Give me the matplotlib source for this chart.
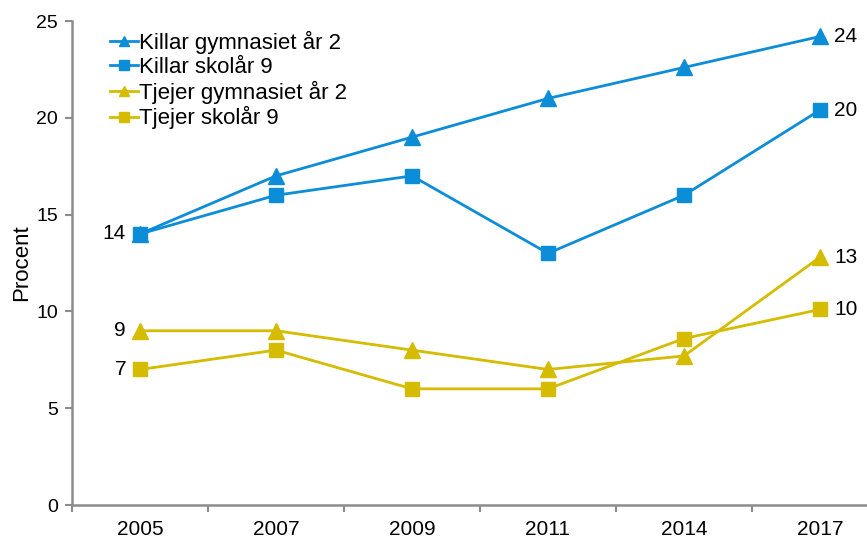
import matplotlib
matplotlib.use("Agg")
import matplotlib.pyplot as plt
import numpy as np

plt.rcParams['font.family'] = ['Liberation Sans', 'DejaVu Sans']

years = ["2005", "2007", "2009", "2011", "2014", "2017"]
killar_gym = [14, 17, 19, 21, 22.6, 24.2]
killar_sk9 = [14, 16, 17, 13, 16, 20.4]
tjejer_gym = [9, 9, 8, 7, 7.7, 12.8]
tjejer_sk9 = [7, 8, 6, 6, 8.6, 10.1]

blue = "#0C8DD7"
yellow = "#D5BC00"

W, H = 867, 542
fig = plt.figure(figsize=(W/100, H/100), dpi=100)
ax = fig.add_axes([72/W, 1-505/H, (888-72)/W, (505-21)/H])

x = np.arange(len(years))
ax.plot(x, killar_gym, color=blue, marker='^', ms=12, lw=2, label="Killar gymnasiet år 2", clip_on=False)
ax.plot(x, killar_sk9, color=blue, marker='s', ms=10, lw=2, label="Killar skolår 9", clip_on=False)
ax.plot(x, tjejer_gym, color=yellow, marker='^', ms=12, lw=2, label="Tjejer gymnasiet år 2", clip_on=False)
ax.plot(x, tjejer_sk9, color=yellow, marker='s', ms=10, lw=2, label="Tjejer skolår 9", clip_on=False)

ax.set_xlim(-0.5, len(years) - 0.5)
ax.set_ylim(0, 25)
ax.set_yticks([0, 5, 10, 15, 20, 25])
ax.set_xticks(x)
ax.set_xticklabels(years)
ax.set_xticks(np.arange(-0.5, len(years), 1), minor=True)
ax.tick_params(axis='x', which='major', length=0, pad=11, labelsize=15)
ax.tick_params(axis='x', which='minor', length=5, width=1.5, color='#8C8C8C', direction='out')
ax.tick_params(axis='y', length=5, width=1.5, color='#8C8C8C', labelsize=14, pad=5)
for s in ['top', 'right']:
    ax.spines[s].set_visible(False)
for s in ['left', 'bottom']:
    ax.spines[s].set_color('#8C8C8C')
    ax.spines[s].set_linewidth(1.8)
ax.set_ylabel("Procent", fontsize=16, labelpad=3)

# first-point labels
for series in [killar_gym, tjejer_gym, tjejer_sk9]:
    ax.annotate(f"{series[0]:.0f}", (x[0], series[0]), xytext=(-10, 0), textcoords='offset points',
                ha='right', va='center', fontsize=15)
# last-point labels
for series in [killar_gym, killar_sk9, tjejer_gym, tjejer_sk9]:
    ax.annotate(f"{series[-1]:.0f}", (x[-1], series[-1]), xytext=(10, 0), textcoords='offset points',
                ha='left', va='center', fontsize=15)

leg = fig.legend(loc='upper left', bbox_to_anchor=(110/W, 1-31/H), frameon=False, fontsize=16,
                 handlelength=1.25, handletextpad=0.05, labelspacing=0.12, borderpad=0,
                 borderaxespad=0, markerscale=0.65)

fig.savefig("out.png", dpi=100)
